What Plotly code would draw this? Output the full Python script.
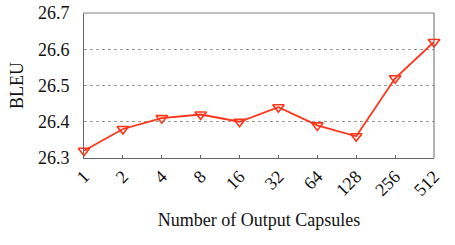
import plotly.graph_objects as go

capsules = ["1", "2", "4", "8", "16", "32", "64", "128", "256", "512"]
bleu = [26.32, 26.38, 26.41, 26.42, 26.40, 26.44, 26.39, 26.36, 26.52, 26.62]
y_ticks = [26.3, 26.4, 26.5, 26.6, 26.7]

idx = list(range(len(capsules)))
red = "#ff3318"
font = "Liberation Serif"

fig = go.Figure()
fig.add_trace(go.Scatter(
    x=idx, y=bleu, mode="lines+markers",
    line=dict(color=red, width=1.8),
    marker=dict(symbol="triangle-down-open", size=10, color=red, line=dict(width=1.6, color=red)),
    cliponaxis=False, showlegend=False,
))

fig.update_layout(
    width=455, height=245,
    margin=dict(l=84, r=21, t=13, b=87),
    paper_bgcolor="white", plot_bgcolor="white",
    font=dict(family=font, size=17, color="#111"),
    xaxis=dict(
        range=[0, len(capsules) - 1], tickvals=idx, ticktext=capsules,
        tickangle=-45, ticks="inside", ticklen=3, tickcolor="#666",
        showgrid=False, showline=True, linecolor="#666", linewidth=1, mirror=False,
        title=dict(text="Number of Output Capsules", font=dict(size=18, family=font), standoff=14),
        zeroline=False, tickfont=dict(size=18, family=font), automargin=False,
    ),
    yaxis=dict(
        range=[26.3, 26.7], tickvals=y_ticks, ticktext=[f"{v:.1f}" for v in y_ticks],
        showgrid=True, gridcolor="#999", griddash="dot", gridwidth=1,
        showline=True, linecolor="#666", linewidth=1, ticks="", ticklabelstandoff=10,
        title=dict(text="BLEU", font=dict(size=18, family=font), standoff=9),
        zeroline=False, tickfont=dict(size=18, family=font), automargin=False,
    ),
)
# top and right frame
fig.add_shape(type="line", xref="paper", yref="paper", x0=0, x1=1, y0=1, y1=1,
              line=dict(color="#aaa", width=1.5))
fig.add_shape(type="line", xref="paper", yref="paper", x0=1, x1=1, y0=0, y1=1,
              line=dict(color="#666", width=1))

fig.write_html("out.html", config={"displayModeBar": False},
               post_script="document.body.style.margin='0';")
